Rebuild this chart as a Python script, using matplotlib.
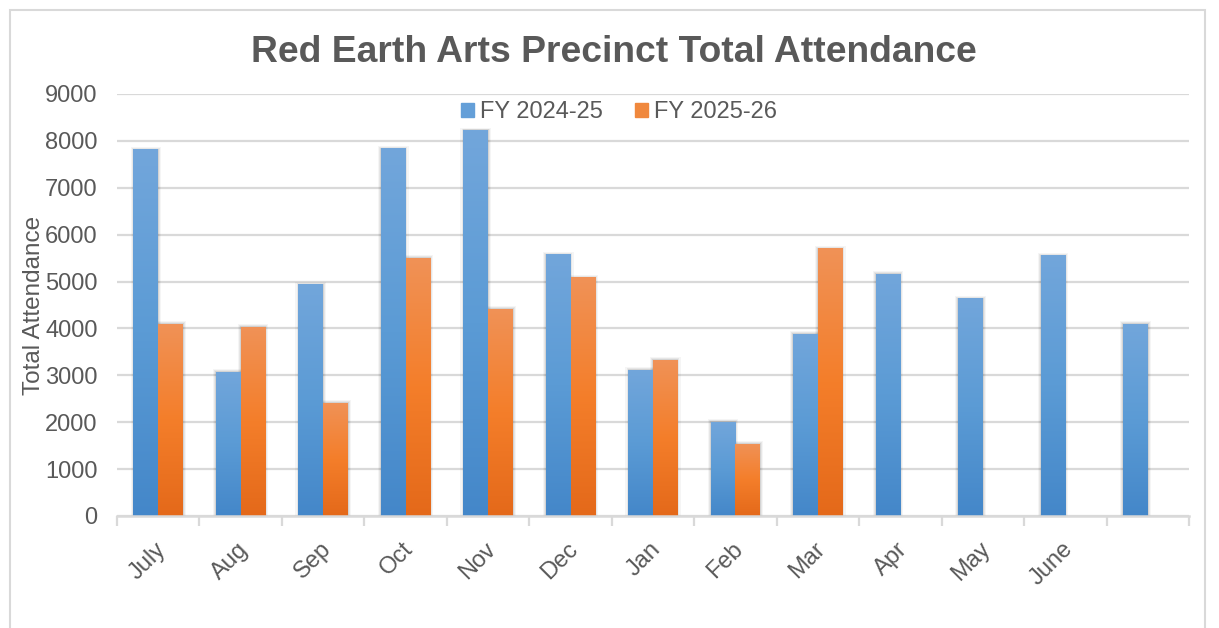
import numpy as np
import matplotlib
matplotlib.use("Agg")
import matplotlib.pyplot as plt
from matplotlib.colors import LinearSegmentedColormap
from matplotlib.patches import Rectangle
from matplotlib.transforms import ScaledTranslation

plt.rcParams['font.family'] = ['Liberation Sans', 'DejaVu Sans']

# data
months = ["July", "Aug", "Sep", "Oct", "Nov", "Dec", "Jan", "Feb", "Mar",
          "Apr", "May", "June", ""]
fy_2425 = [7820, 3080, 4940, 7840, 8230, 5580, 3120, 2010, 3890, 5170, 4640, 5560, 4100]
fy_2526 = [4100, 4040, 2420, 5510, 4420, 5090, 3330, 1540, 5710]
series_names = ["FY 2024-25", "FY 2025-26"]

text_col = "#595959"
grid_col = "#D9D9D9"
blue_grad = LinearSegmentedColormap.from_list("b", ["#4487C9", "#5B9BD5", "#72A6DB"])
orange_grad = LinearSegmentedColormap.from_list("o", ["#E4691A", "#F47E2A", "#F09257"])

fig = plt.figure(figsize=(12.19, 6.28), dpi=100)
# chart area border
fig.patches.append(Rectangle((10 / 1219, -0.05), 1195 / 1219, 1 - 10 / 628 + 0.05,
                             transform=fig.transFigure, fill=False,
                             edgecolor=grid_col, linewidth=1.5))

ax = fig.add_axes([117 / 1219, 1 - 516 / 628, 1072 / 1219, 422 / 628])

x = np.arange(len(months))
w = 0.30
b1 = ax.bar(x - w / 2, fy_2425, width=w, color="#5B9BD5", label=series_names[0], zorder=3)
b2 = ax.bar(x[:len(fy_2526)] + w / 2, fy_2526, width=w, color="#F47E2A",
            label=series_names[1], zorder=3)

# vertical gradient fill and soft shadow on each bar
grad = np.linspace(0, 1, 256).reshape(-1, 1)
for bars, cmap in [(b1, blue_grad), (b2, orange_grad)]:
    for bar in bars:
        x0, y0 = bar.get_x(), bar.get_y()
        bw, bh = bar.get_width(), bar.get_height()
        for k, a in [(0.06, 0.04), (0.035, 0.06), (0.015, 0.08)]:
            ax.add_patch(Rectangle((x0 - k * 0.6, y0), bw + 2 * k * 0.6, bh + k * 900,
                                   facecolor="#000000", alpha=a, linewidth=0, zorder=2))
        im = ax.imshow(grad, cmap=cmap, aspect="auto", origin="lower",
                       extent=(x0, x0 + bw, y0, y0 + bh), zorder=4)
        im.set_clip_path(bar)

ax.set_xlim(-0.5, len(months) - 0.5)
ax.set_ylim(0, 9000)
ax.set_yticks(np.arange(0, 9001, 1000))
ax.yaxis.grid(True, color=grid_col, linewidth=1.6, zorder=0)
ax.set_axisbelow(True)

for s in ["left", "right", "top"]:
    ax.spines[s].set_visible(False)
ax.spines["bottom"].set_color(grid_col)
ax.spines["bottom"].set_linewidth(1.8)
ax.spines["bottom"].set_zorder(5)

ax.tick_params(axis="y", length=0, labelsize=17, labelcolor=text_col, pad=14)
ax.set_xticks(np.arange(-0.5, len(months), 1.0))
ax.set_xticklabels([])
ax.set_xticks(x, minor=True)
ax.set_xticklabels(months, minor=True, rotation=45, ha="right",
                   fontsize=17, color=text_col)
ax.tick_params(axis="x", which="major", length=7, width=1.6, color=grid_col)
ax.tick_params(axis="x", which="minor", length=0, pad=16)
for lbl in ax.get_xticklabels(minor=True):
    lbl.set_transform(lbl.get_transform() + ScaledTranslation(0.12, 0, fig.dpi_scale_trans))

ax.set_ylabel("Total Attendance", fontsize=17.5, color=text_col, labelpad=0)

fig.text(614 / 1219, 1 - 52 / 628, "Red Earth Arts Precinct Total Attendance",
         ha="center", va="center", fontsize=26.8, fontweight="bold", color=text_col)

leg = ax.legend(loc="center", bbox_to_anchor=(619 / 1219, 1 - 112 / 628),
                bbox_transform=fig.transFigure, ncol=2, frameon=False,
                fontsize=17, handlelength=0.55, handleheight=0.55,
                handletextpad=0.25, columnspacing=1.4, labelcolor=text_col)
leg.legend_handles[0].set_color("#649FD8")
leg.legend_handles[1].set_color("#F0883D")

fig.savefig("out.png", dpi=100, facecolor="white")
